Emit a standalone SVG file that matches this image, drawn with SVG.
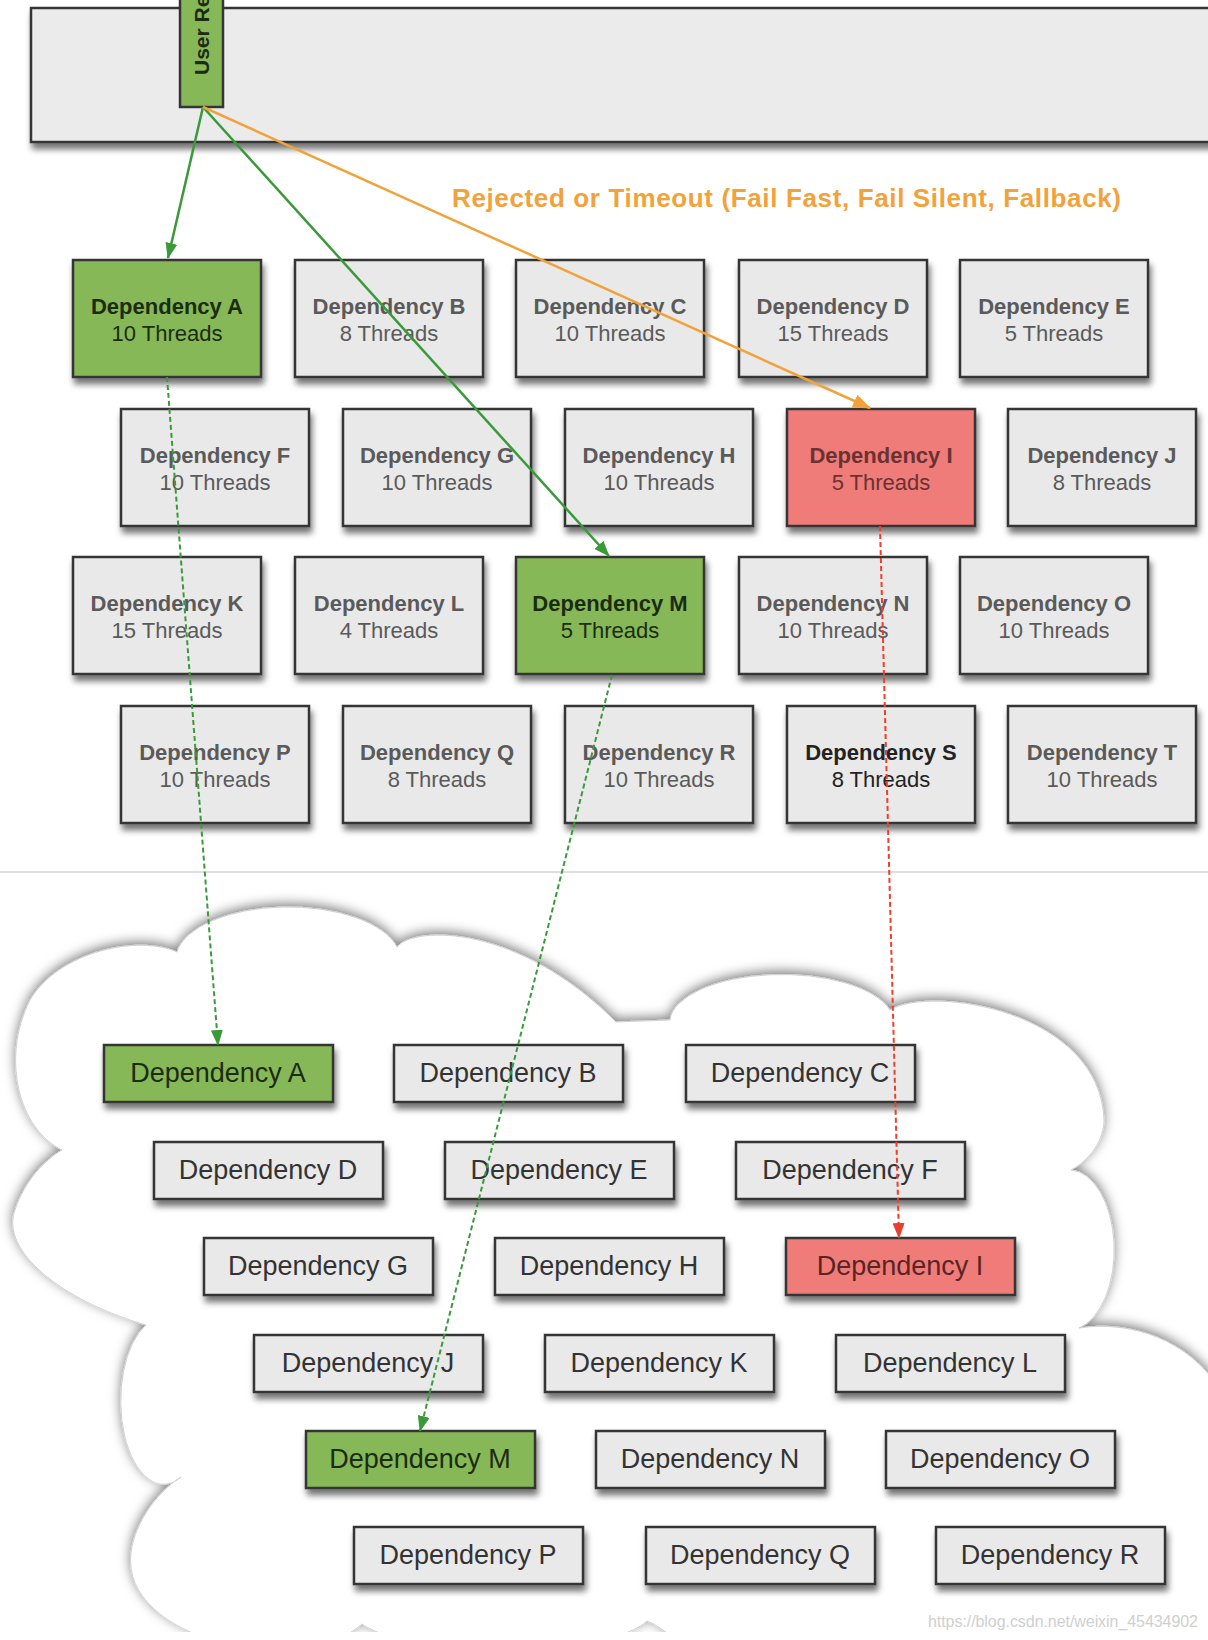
<svg xmlns="http://www.w3.org/2000/svg" width="1208" height="1640" viewBox="0 0 1208 1640">
<defs>
<style>
.box{stroke:#353535;stroke-width:2.5}
.gray{fill:#e9e9e9}
.green{fill:#86b858}
.red{fill:#f07b79}
.t1{font-family:"Liberation Sans",Arial,sans-serif;font-size:22px;font-weight:bold;text-anchor:middle}
.t2{font-family:"Liberation Sans",Arial,sans-serif;font-size:22px;text-anchor:middle}
.tb{font-family:"Liberation Sans",Arial,sans-serif;font-size:27px;text-anchor:middle;fill:#333}
.g{fill:#5a5a5a}
.dk{fill:#1c2c12}
.rd{fill:#6a3232}
.blk{fill:#222}
.ln{fill:none;stroke-width:2.5}
.dash{fill:none;stroke-width:2;stroke-dasharray:5 3}
</style>
<filter id="sh" x="-10%" y="-20%" width="130%" height="160%">
<feDropShadow dx="2" dy="6" stdDeviation="3" flood-color="#000" flood-opacity="0.55"/>
</filter>
<filter id="csh" x="-10%" y="-10%" width="120%" height="120%">
<feDropShadow dx="0" dy="-3" stdDeviation="6" flood-color="#000" flood-opacity="0.5"/>
</filter>
<clipPath id="cclip"><rect x="0" y="0" width="1208" height="1632"/></clipPath>
<marker id="ag" markerUnits="userSpaceOnUse" markerWidth="16" markerHeight="12" refX="15" refY="6" orient="auto"><path d="M0,0 L16,6 L0,12 z" fill="#3a9a3a"/></marker>
<marker id="ao" markerUnits="userSpaceOnUse" markerWidth="18" markerHeight="14" refX="17" refY="7" orient="auto"><path d="M0,0 L18,7 L0,14 z" fill="#f2a23a"/></marker>
<marker id="ar" markerUnits="userSpaceOnUse" markerWidth="16" markerHeight="12" refX="15" refY="6" orient="auto"><path d="M0,0 L16,6 L0,12 z" fill="#e8402e"/></marker>
</defs>
<rect x="0" y="0" width="1208" height="1640" fill="#fff"/>

<g id="top-bar">
<rect x="31" y="8" width="1200" height="134" fill="#ebebeb" class="box" filter="url(#sh)"/>
</g>
<g id="user-request">
<rect x="180" y="-10" width="43" height="117" class="box green"/>
<text transform="translate(209,75) rotate(-90)" font-family="Liberation Sans,Arial,sans-serif" font-size="21" font-weight="bold" fill="#1c2c12">User Request</text>
</g>

<text x="452" y="207" font-family="Liberation Sans,Arial,sans-serif" font-size="26" font-weight="bold" fill="#f2a23a" textLength="669">Rejected or Timeout (Fail Fast, Fail Silent, Fallback)</text>

<line x1="0" y1="872" x2="1208" y2="872" stroke="#dedede" stroke-width="2"/>

<g id="cloud" clip-path="url(#cclip)">
<path filter="url(#csh)" fill="#fff" stroke="#d2d2d2" stroke-width="1" d="M177 952 A112 52 0 0 1 397 947 C415 925 520 925 616 1022 L670 1020 A112 48 0 0 1 890 1010 C930 985 1100 1010 1104 1120 C1104 1140 1090 1160 1071 1170 A45 80 0 0 1 1079 1328 C1130 1320 1190 1340 1220 1390 L1240 1700 L700 1700 L700 1660 Q660 1625 647 1621 A150 40 0 0 1 362 1624 C300 1680 120 1640 131 1553 C135 1520 160 1490 181 1477 A40 78 0 0 1 146 1325 C60 1300 0 1250 15 1210 C25 1180 45 1160 62 1150 C20 1130 0 1060 30 1000 C60 950 140 935 177 952 Z"/>
</g>

<g id="top-nodes">
<g id="dep-a"><rect x="73" y="260" width="188" height="117" class="box green" filter="url(#sh)"/><text x="167" y="314" class="t1 dk">Dependency A</text><text x="167" y="341" class="t2 dk">10 Threads</text></g>
<g id="dep-b"><rect x="295" y="260" width="188" height="117" class="box gray" filter="url(#sh)"/><text x="389" y="314" class="t1 g">Dependency B</text><text x="389" y="341" class="t2 g">8 Threads</text></g>
<g id="dep-c"><rect x="516" y="260" width="188" height="117" class="box gray" filter="url(#sh)"/><text x="610" y="314" class="t1 g">Dependency C</text><text x="610" y="341" class="t2 g">10 Threads</text></g>
<g id="dep-d"><rect x="739" y="260" width="188" height="117" class="box gray" filter="url(#sh)"/><text x="833" y="314" class="t1 g">Dependency D</text><text x="833" y="341" class="t2 g">15 Threads</text></g>
<g id="dep-e"><rect x="960" y="260" width="188" height="117" class="box gray" filter="url(#sh)"/><text x="1054" y="314" class="t1 g">Dependency E</text><text x="1054" y="341" class="t2 g">5 Threads</text></g>

<g id="dep-f"><rect x="121" y="409" width="188" height="117" class="box gray" filter="url(#sh)"/><text x="215" y="463" class="t1 g">Dependency F</text><text x="215" y="490" class="t2 g">10 Threads</text></g>
<g id="dep-g"><rect x="343" y="409" width="188" height="117" class="box gray" filter="url(#sh)"/><text x="437" y="463" class="t1 g">Dependency G</text><text x="437" y="490" class="t2 g">10 Threads</text></g>
<g id="dep-h"><rect x="565" y="409" width="188" height="117" class="box gray" filter="url(#sh)"/><text x="659" y="463" class="t1 g">Dependency H</text><text x="659" y="490" class="t2 g">10 Threads</text></g>
<g id="dep-i"><rect x="787" y="409" width="188" height="117" class="box red" filter="url(#sh)"/><text x="881" y="463" class="t1 rd">Dependency I</text><text x="881" y="490" class="t2 rd">5 Threads</text></g>
<g id="dep-j"><rect x="1008" y="409" width="188" height="117" class="box gray" filter="url(#sh)"/><text x="1102" y="463" class="t1 g">Dependency J</text><text x="1102" y="490" class="t2 g">8 Threads</text></g>

<g id="dep-k"><rect x="73" y="557" width="188" height="117" class="box gray" filter="url(#sh)"/><text x="167" y="611" class="t1 g">Dependency K</text><text x="167" y="638" class="t2 g">15 Threads</text></g>
<g id="dep-l"><rect x="295" y="557" width="188" height="117" class="box gray" filter="url(#sh)"/><text x="389" y="611" class="t1 g">Dependency L</text><text x="389" y="638" class="t2 g">4 Threads</text></g>
<g id="dep-m"><rect x="516" y="557" width="188" height="117" class="box green" filter="url(#sh)"/><text x="610" y="611" class="t1 dk">Dependency M</text><text x="610" y="638" class="t2 dk">5 Threads</text></g>
<g id="dep-n"><rect x="739" y="557" width="188" height="117" class="box gray" filter="url(#sh)"/><text x="833" y="611" class="t1 g">Dependency N</text><text x="833" y="638" class="t2 g">10 Threads</text></g>
<g id="dep-o"><rect x="960" y="557" width="188" height="117" class="box gray" filter="url(#sh)"/><text x="1054" y="611" class="t1 g">Dependency O</text><text x="1054" y="638" class="t2 g">10 Threads</text></g>

<g id="dep-p"><rect x="121" y="706" width="188" height="117" class="box gray" filter="url(#sh)"/><text x="215" y="760" class="t1 g">Dependency P</text><text x="215" y="787" class="t2 g">10 Threads</text></g>
<g id="dep-q"><rect x="343" y="706" width="188" height="117" class="box gray" filter="url(#sh)"/><text x="437" y="760" class="t1 g">Dependency Q</text><text x="437" y="787" class="t2 g">8 Threads</text></g>
<g id="dep-r"><rect x="565" y="706" width="188" height="117" class="box gray" filter="url(#sh)"/><text x="659" y="760" class="t1 g">Dependency R</text><text x="659" y="787" class="t2 g">10 Threads</text></g>
<g id="dep-s"><rect x="787" y="706" width="188" height="117" class="box gray" filter="url(#sh)"/><text x="881" y="760" class="t1 blk">Dependency S</text><text x="881" y="787" class="t2 blk">8 Threads</text></g>
<g id="dep-t"><rect x="1008" y="706" width="188" height="117" class="box gray" filter="url(#sh)"/><text x="1102" y="760" class="t1 g">Dependency T</text><text x="1102" y="787" class="t2 g">10 Threads</text></g>
</g>

<g id="cloud-nodes">
<g id="c-a"><rect x="104" y="1045" width="229" height="57" class="box green" filter="url(#sh)"/><text x="218" y="1082" class="tb" style="fill:#1c2c12">Dependency A</text></g>
<g id="c-b"><rect x="394" y="1045" width="229" height="57" class="box gray" filter="url(#sh)"/><text x="508" y="1082" class="tb">Dependency B</text></g>
<g id="c-c"><rect x="686" y="1045" width="229" height="57" class="box gray" filter="url(#sh)"/><text x="800" y="1082" class="tb">Dependency C</text></g>
<g id="c-d"><rect x="154" y="1142" width="229" height="57" class="box gray" filter="url(#sh)"/><text x="268" y="1179" class="tb">Dependency D</text></g>
<g id="c-e"><rect x="445" y="1142" width="229" height="57" class="box gray" filter="url(#sh)"/><text x="559" y="1179" class="tb">Dependency E</text></g>
<g id="c-f"><rect x="736" y="1142" width="229" height="57" class="box gray" filter="url(#sh)"/><text x="850" y="1179" class="tb">Dependency F</text></g>
<g id="c-g"><rect x="204" y="1238" width="229" height="57" class="box gray" filter="url(#sh)"/><text x="318" y="1275" class="tb">Dependency G</text></g>
<g id="c-h"><rect x="495" y="1238" width="229" height="57" class="box gray" filter="url(#sh)"/><text x="609" y="1275" class="tb">Dependency H</text></g>
<g id="c-i"><rect x="786" y="1238" width="229" height="57" class="box red" filter="url(#sh)"/><text x="900" y="1275" class="tb" style="fill:#5a2424">Dependency I</text></g>
<g id="c-j"><rect x="254" y="1335" width="229" height="57" class="box gray" filter="url(#sh)"/><text x="368" y="1372" class="tb">Dependency J</text></g>
<g id="c-k"><rect x="545" y="1335" width="229" height="57" class="box gray" filter="url(#sh)"/><text x="659" y="1372" class="tb">Dependency K</text></g>
<g id="c-l"><rect x="836" y="1335" width="229" height="57" class="box gray" filter="url(#sh)"/><text x="950" y="1372" class="tb">Dependency L</text></g>
<g id="c-m"><rect x="306" y="1431" width="229" height="57" class="box green" filter="url(#sh)"/><text x="420" y="1468" class="tb" style="fill:#1c2c12">Dependency M</text></g>
<g id="c-n"><rect x="596" y="1431" width="229" height="57" class="box gray" filter="url(#sh)"/><text x="710" y="1468" class="tb">Dependency N</text></g>
<g id="c-o"><rect x="886" y="1431" width="229" height="57" class="box gray" filter="url(#sh)"/><text x="1000" y="1468" class="tb">Dependency O</text></g>
<g id="c-p"><rect x="354" y="1527" width="229" height="57" class="box gray" filter="url(#sh)"/><text x="468" y="1564" class="tb">Dependency P</text></g>
<g id="c-q"><rect x="646" y="1527" width="229" height="57" class="box gray" filter="url(#sh)"/><text x="760" y="1564" class="tb">Dependency Q</text></g>
<g id="c-r"><rect x="936" y="1527" width="229" height="57" class="box gray" filter="url(#sh)"/><text x="1050" y="1564" class="tb">Dependency R</text></g>
</g>

<g id="connectors">
<line x1="203" y1="107" x2="168" y2="258" class="ln" stroke="#3a9a3a" marker-end="url(#ag)"/>
<line x1="203" y1="107" x2="609" y2="556" class="ln" stroke="#3a9a3a" marker-end="url(#ag)"/>
<line x1="203" y1="107" x2="870" y2="408" class="ln" stroke="#f2a23a" marker-end="url(#ao)"/>
<line x1="167" y1="377" x2="218" y2="1045" class="dash" stroke="#3a9a3a" marker-end="url(#ag)"/>
<line x1="612" y1="675" x2="420" y2="1431" class="dash" stroke="#3a9a3a" marker-end="url(#ag)"/>
<line x1="880" y1="526" x2="899" y2="1238" class="dash" stroke="#e8402e" marker-end="url(#ar)"/>
</g>

<text x="1198" y="1627" font-family="Liberation Sans,Arial,sans-serif" font-size="16" fill="#cfcfcf" text-anchor="end" textLength="270">https://blog.csdn.net/weixin_45434902</text>
</svg>
